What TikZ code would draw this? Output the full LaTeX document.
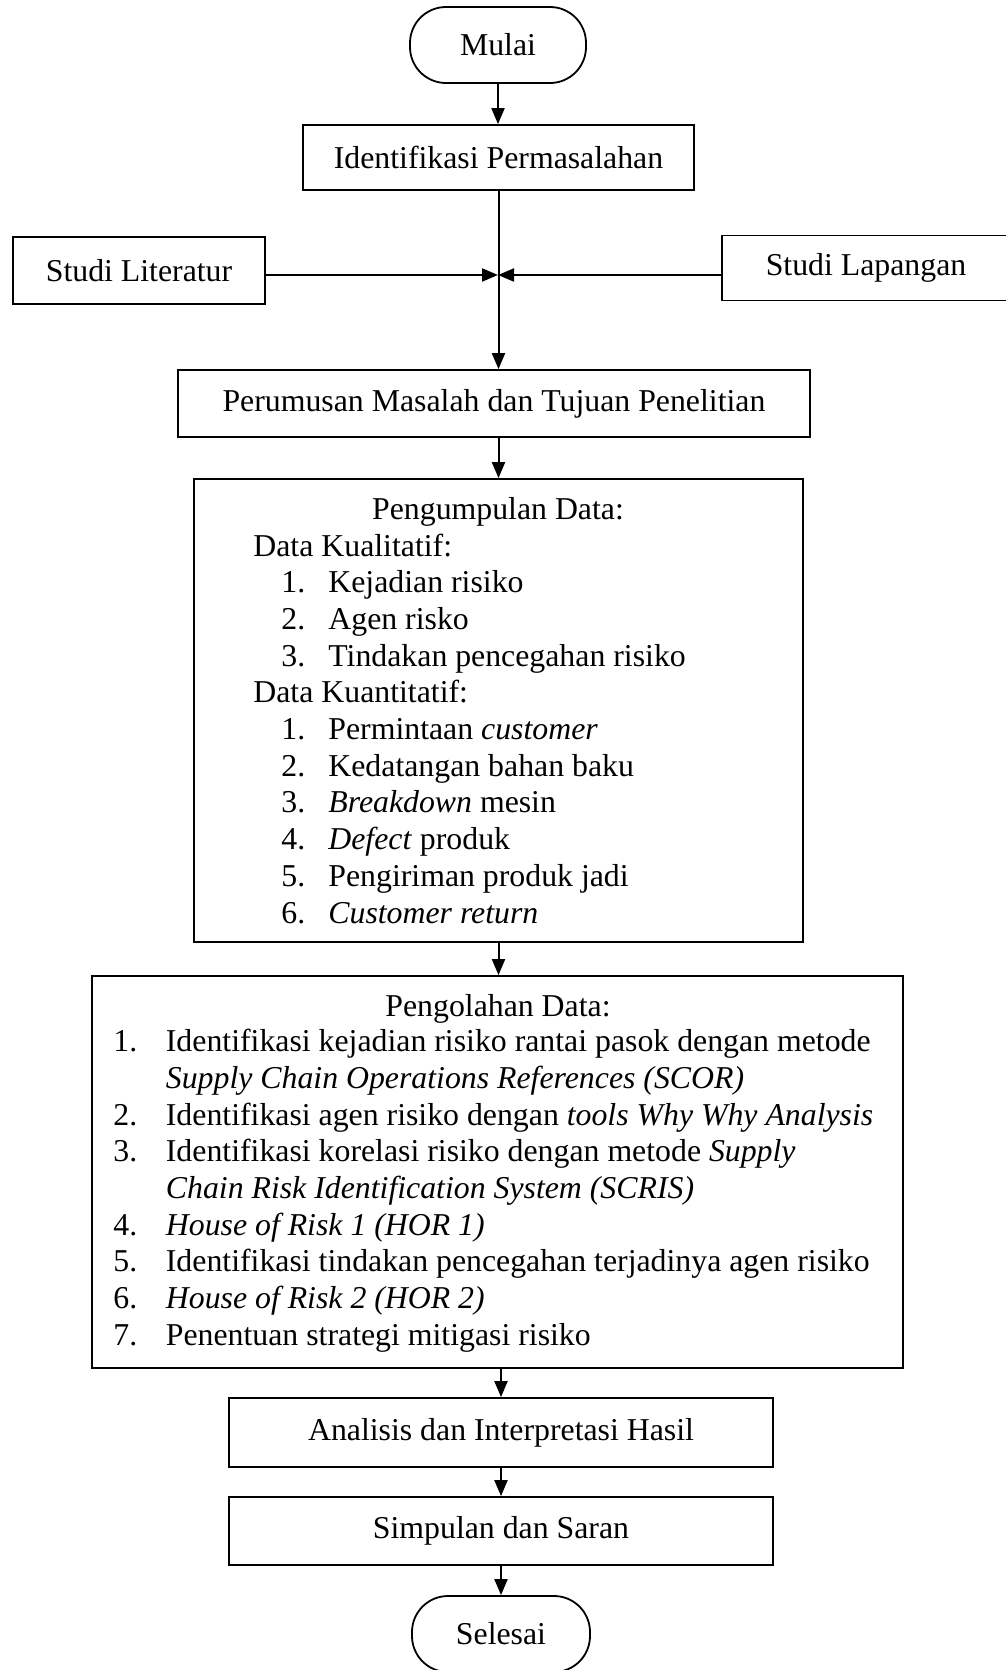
\documentclass[tikz,border=0pt]{standalone}
\usepackage{fontspec}
\setmainfont{Liberation Serif}
\usepackage{tikz}
\usetikzlibrary{arrows.meta}
\tikzset{
  box/.style  ={draw, line width=0.9pt, inner sep=0pt},
  term/.style ={draw, line width=0.9pt, inner sep=0pt, rounded corners=18pt},
  txt/.style  ={inner sep=0pt, anchor=base west},
  ttl/.style  ={inner sep=0pt, anchor=base},
  arr/.style  ={line width=1pt, -{Triangle[length=8pt,width=6.5pt]}},
}

\begin{document}
\begin{tikzpicture}[x=0.5pt,y=-0.5pt,font=\fontsize{15.9pt}{18.3pt}\selectfont]
  \useasboundingbox (0,0) rectangle (1006,1670);
  % top part
  \node[term,minimum width=88pt,minimum height=38pt] (mulai) at (498,45) {Mulai};
  \node[box,minimum width=195.5pt,minimum height=32.5pt] (ident) at (498.5,157.5) {Identifikasi Permasalahan};
  \node[box,minimum width=126pt,minimum height=33.5pt] (lit) at (139,270.5) {Studi Literatur};
  \node[box,minimum width=144pt,minimum height=32.5pt] (lap) at (866,268) {Studi Lapangan};
  \node[box,minimum width=316pt,minimum height=33.5pt] (rumus) at (494,403.5) {Perumusan Masalah dan Tujuan Penelitian};
  \coordinate (meet) at (498,275);
  % pengumpulan data
  \node[box,minimum width=304.5pt,minimum height=231.5pt] (kumpul) at (498.5,710.5) {};
  \node[ttl] (kumpulttl) at (498,519) {Pengumpulan Data:};
  \node[txt] (kual) at (253,556) {Data Kualitatif:};
  \node[txt] (kualn1) at (281,592.7) {1.};
  \node[txt] (kual1) at (328,592.7) {Kejadian risiko};
  \node[txt] (kualn2) at (281,629.4) {2.};
  \node[txt] (kual2) at (328,629.4) {Agen risko};
  \node[txt] (kualn3) at (281,666) {3.};
  \node[txt] (kual3) at (328,666) {Tindakan pencegahan risiko};
  \node[txt] (kuan) at (253,702.8) {Data Kuantitatif:};
  \node[txt] (kuann1) at (281,739.5) {1.};
  \node[txt] (kuan1) at (328,739.5) {Permintaan \textit{customer}};
  \node[txt] (kuann2) at (281,776.2) {2.};
  \node[txt] (kuan2) at (328,776.2) {Kedatangan bahan baku};
  \node[txt] (kuann3) at (281,812.9) {3.};
  \node[txt] (kuan3) at (328,812.9) {\textit{Breakdown} mesin};
  \node[txt] (kuann4) at (281,849.6) {4.};
  \node[txt] (kuan4) at (328,849.6) {\textit{Defect} produk};
  \node[txt] (kuann5) at (281,886.3) {5.};
  \node[txt] (kuan5) at (328,886.3) {Pengiriman produk jadi};
  \node[txt] (kuann6) at (281,923) {6.};
  \node[txt] (kuan6) at (328,923) {\textit{Customer return}};
  % pengolahan data
  \node[box,minimum width=405.5pt,minimum height=196pt] (olah) at (497.5,1172) {};
  \node[ttl] (olahttl) at (498,1016) {Pengolahan Data:};
  \node[txt] (olahn1) at (113,1051.7) {1.};
  \node[txt] (olah1) at (165.5,1051.7) {Identifikasi kejadian risiko rantai pasok dengan metode};
  \node[txt] (olah1b) at (165.5,1088.3) {\textit{Supply Chain Operations References (SCOR)}};
  \node[txt] (olahn2) at (113,1125) {2.};
  \node[txt] (olah2) at (165.5,1125) {Identifikasi agen risiko dengan \textit{tools Why Why Analysis}};
  \node[txt] (olahn3) at (113,1161.7) {3.};
  \node[txt] (olah3) at (165.5,1161.7) {Identifikasi korelasi risiko dengan metode \textit{Supply}};
  \node[txt] (olah3b) at (165.5,1198.3) {\textit{Chain Risk Identification System (SCRIS)}};
  \node[txt] (olahn4) at (113,1235) {4.};
  \node[txt] (olah4) at (165.5,1235) {\textit{House of Risk 1 (HOR 1)}};
  \node[txt] (olahn5) at (113,1271.7) {5.};
  \node[txt] (olah5) at (165.5,1271.7) {Identifikasi tindakan pencegahan terjadinya agen risiko};
  \node[txt] (olahn6) at (113,1308.3) {6.};
  \node[txt] (olah6) at (165.5,1308.3) {\textit{House of Risk 2 (HOR 2)}};
  \node[txt] (olahn7) at (113,1345) {7.};
  \node[txt] (olah7) at (165.5,1345) {Penentuan strategi mitigasi risiko};
  % bottom part
  \node[box,minimum width=272pt,minimum height=34.5pt] (hasil) at (501,1432.5) {Analisis dan Interpretasi Hasil};
  \node[box,minimum width=272pt,minimum height=34pt] (saran) at (501,1531) {Simpulan dan Saran};
  \node[term,minimum width=89pt,minimum height=38pt] (selesai) at (501,1634) {Selesai};
  % connectors
  \draw[arr] (mulai) -- (mulai.south |- ident.north);
  \draw[arr] (ident) -- (ident.south |- rumus.north);
  \draw[arr] (lit.east |- meet) -- (meet);
  \draw[arr] (lap.west |- meet) -- (meet);
  \draw[arr] (rumus.south -| kumpul.north) -- (kumpul);
  \draw[arr] (kumpul) -- (kumpul.south |- olah.north);
  \draw[arr] (olah.south -| hasil.north) -- (hasil);
  \draw[arr] (hasil) -- (saran);
  \draw[arr] (saran) -- (selesai);
\end{tikzpicture}
\end{document}
